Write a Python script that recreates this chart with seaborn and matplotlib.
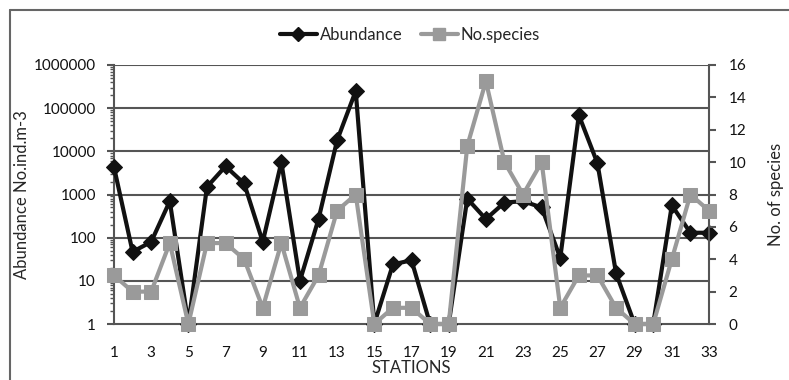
import numpy as np
import pandas as pd
import matplotlib
matplotlib.use("Agg")
import matplotlib.pyplot as plt
import seaborn as sns
from matplotlib.lines import Line2D
from matplotlib.ticker import LogLocator, FixedLocator, NullFormatter

# data
stations = list(range(1, 34))
abundance = [4300, 47, 80, 700, 1, 1500, 4500, 1800, 80, 5600,
             10, 270, 18000, 250000, 1, 24, 30, 1, 1, 800,
             270, 650, 700, 500, 34, 69000, 5300, 15, 1, 1,
             560, 130, 130]
species = [3, 2, 2, 5, 0, 5, 5, 4, 1, 5,
           1, 3, 7, 8, 0, 1, 1, 0, 0, 11,
           15, 10, 8, 10, 1, 3, 3, 1, 0, 0,
           4, 8, 7]

df = pd.DataFrame({"station": stations, "abundance": abundance, "species": species})

sns.set_style("white")
plt.rcParams["font.family"] = ["Lato", "DejaVu Sans"]

black = "#111111"
grey = "#9a9a9a"
axis_col = "#555555"
tick_fs = 11
label_fs = 12

fig = plt.figure(figsize=(7.89, 3.80), dpi=100)
ax = fig.add_axes([114 / 789, 1 - 324 / 380, (709 - 114) / 789, (324 - 65) / 380])
ax2 = ax.twinx()

sns.lineplot(data=df, x="station", y="abundance", ax=ax, color=black, lw=3,
             marker="D", markersize=8, markeredgecolor=black, clip_on=False, zorder=5)
sns.lineplot(data=df, x="station", y="species", ax=ax2, color=grey, lw=3,
             marker="s", markersize=9.5, markeredgecolor=grey, clip_on=False, zorder=5)

ax.set_yscale("log")
ax.set_ylim(1, 1000000)
ax.set_xlim(1, 33)
ax2.set_ylim(0, 16)

ax.yaxis.set_major_locator(FixedLocator([1, 10, 100, 1000, 10000, 100000, 1000000]))
ax.set_yticklabels(["1", "10", "100", "1000", "10000", "100000", "1000000"])
ax.yaxis.set_minor_locator(LogLocator(base=10, subs=np.arange(2, 10)))
ax.yaxis.set_minor_formatter(NullFormatter())
ax.set_xticks(stations)
ax.set_xticklabels([str(s) if s % 2 == 1 else "" for s in stations])
ax2.set_yticks(range(0, 17, 2))

for y in [10, 100, 1000, 10000, 100000, 1000000]:
    ax.axhline(y, color=axis_col, lw=1.5, zorder=1)

for a in (ax, ax2):
    for s in a.spines.values():
        s.set_visible(False)
ax.spines["left"].set_visible(True)
ax.spines["bottom"].set_visible(True)
ax2.spines["right"].set_visible(True)
for s in [ax.spines["left"], ax.spines["bottom"], ax2.spines["right"]]:
    s.set_color(axis_col)
    s.set_linewidth(1.5)

ax.tick_params(axis="both", which="major", direction="out", length=5, width=1.5,
               color=axis_col, labelsize=tick_fs, labelcolor="#111111")
ax.tick_params(axis="y", which="minor", direction="out", length=3, width=1, color=axis_col)
ax.tick_params(axis="x", pad=11)
ax.tick_params(axis="y", which="major", pad=8)
ax2.tick_params(axis="y", direction="out", length=5, width=1.5, color=axis_col,
                labelsize=tick_fs, labelcolor="#111111", pad=9)

ax.set_xlabel("STATIONS", fontsize=label_fs, labelpad=0)
ax.set_ylabel("Abundance No.ind.m-3", fontsize=label_fs, labelpad=3)
ax2.set_ylabel("No. of species", fontsize=label_fs, labelpad=16)

handles = [Line2D([], [], color=black, lw=3, marker="D", markersize=7),
           Line2D([], [], color=grey, lw=3, marker="s", markersize=8)]
fig.legend(handles, ["Abundance", "No.species"], loc="center", ncol=2,
           bbox_to_anchor=(410 / 789, 1 - 35 / 380), frameon=False,
           fontsize=label_fs, handlelength=2.2, handletextpad=0.2, columnspacing=1.1)

# outer chart frame (top and left visible)
fig.add_artist(Line2D([10 / 789, 10 / 789], [0, 1 - 10 / 380], transform=fig.transFigure,
                      color="#666666", lw=1.5))
fig.add_artist(Line2D([10 / 789, 1], [1 - 10 / 380, 1 - 10 / 380], transform=fig.transFigure,
                      color="#666666", lw=1.5))

fig.savefig("out.png", dpi=100)
